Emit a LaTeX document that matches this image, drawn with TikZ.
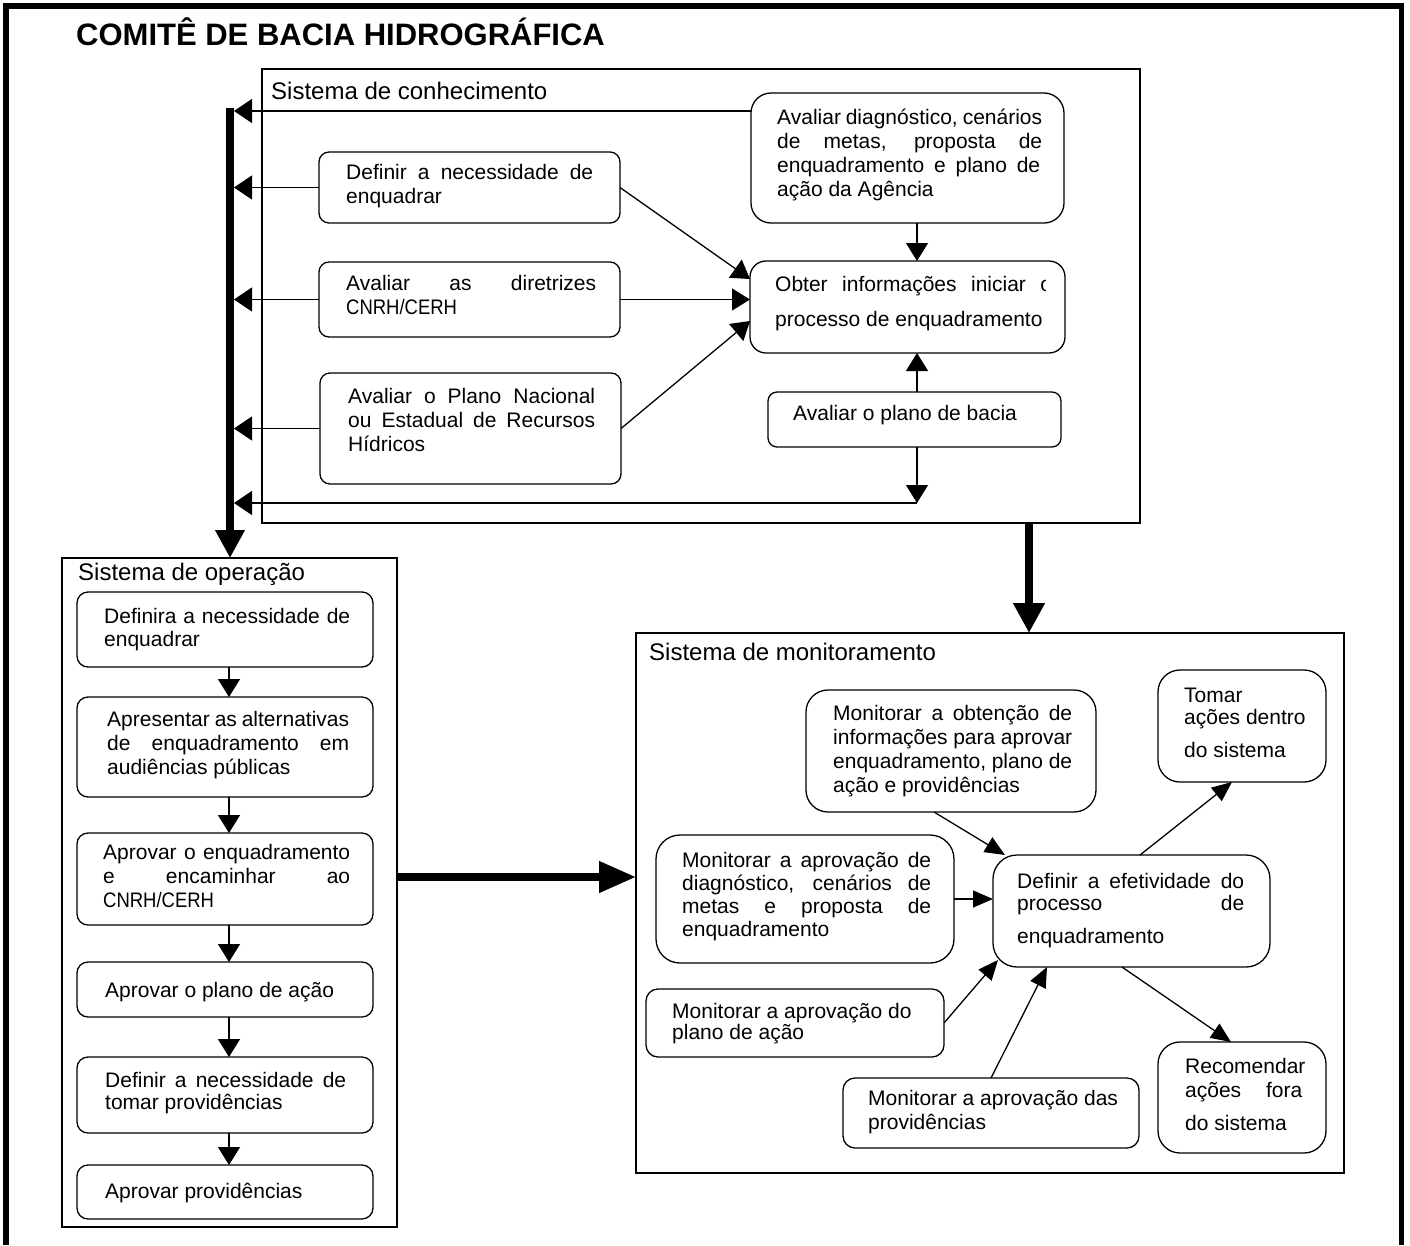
\documentclass[tikz,border=0pt]{standalone}
\usepackage{fontspec}
\setmainfont{Liberation Sans}
\usetikzlibrary{arrows.meta}
\newcommand{\justline}[2]{\makebox[#1pt][s]{#2}}
\newcommand{\cnrh}{\scalebox{0.88}[1]{CNRH/CERH}}
\begin{document}
\begin{tikzpicture}[x=1pt,y=-1pt,
  sysframe/.style={draw, line width=1.3pt, inner sep=0pt, outer sep=0pt, anchor=north west},
  rbox/.style={draw, line width=1.3pt, inner sep=0pt, outer sep=0pt, anchor=north west, rounded corners=#1},
  rbox/.default=10pt,
  txt/.style={anchor=north west, inner sep=0pt, align=left, font=\fontsize{21}{24}\selectfont},
  syslabel/.style={anchor=base west, inner sep=0pt, font=\fontsize{24}{28}\selectfont},
  arr/.style={line width=1.3pt, -{Triangle[length=18pt,width=22pt]}},
  busarr/.style={line width=1.3pt, -{Triangle[length=18pt,width=24pt]}},
  monarr/.style={line width=1.3pt, -{Triangle[length=20pt,width=17pt]}},
  bigarr/.style={line width=7.5pt, -{Triangle[length=30pt,width=30pt]}},
]
\useasboundingbox (0,0) rectangle (1410,1245);

% outer frame, open at the bottom
\draw[line width=5.5pt] (6,1245) -- (6,6) -- (1401.5,6) -- (1401.5,1245);
\node[anchor=base west, inner sep=0pt, font=\fontsize{31}{36}\selectfont\bfseries] (title) at (76,45) {COMITÊ DE BACIA HIDROGRÁFICA};

% ---------- Sistema de conhecimento ----------
\node[sysframe, minimum width=878pt, minimum height=454pt] (kn) at (262,69) {};
\node[syslabel] (knlab) at (271,99) {Sistema de conhecimento};

\node[rbox, minimum width=301pt, minimum height=71pt] (k1) at (319,152) {};
\node[rbox, minimum width=301pt, minimum height=75pt] (k2) at (319,262) {};
\node[rbox, minimum width=301pt, minimum height=111pt] (k3) at (320,373) {};
\node[rbox=20pt, minimum width=313pt, minimum height=130pt] (kd) at (751,93) {};
\node[rbox=16pt, minimum width=315pt, minimum height=92pt] (ko) at (750,261) {};
\node[rbox=9pt, minimum width=293pt, minimum height=55pt] (kp) at (768,392) {};

\node[txt] (k1t) at (346,162.2) {\strut\justline{247}{Definir a necessidade de}\\enquadrar};
\node[txt] (k2t) at (346,273.2) {\strut\justline{250}{Avaliar as diretrizes}\\\cnrh};
\node[txt] (k3t) at (348,386.2) {\strut\justline{247}{Avaliar o Plano Nacional}\\\justline{247}{ou Estadual de Recursos}\\Hídricos};
\node[txt] (kdt) at (777,107.2) {\strut\justline{265}{Avaliar diagnóstico, cenários}\\\justline{265}{de metas, proposta de}\\\justline{263}{enquadramento e plano de}\\ação da Agência};
\begin{scope}
  \clip (750,255) rectangle (1045.5,360);
  \node[txt] (kot) at (775,274.2) {\strut\justline{277}{Obter informações iniciar o}\\[11pt]processo de enquadramento};
\end{scope}
\node[txt] (kpt) at (793,403.2) {\strut Avaliar o plano de bacia};

% collecting bus on the left
\coordinate (busTop) at (230,108);
\coordinate (busR) at (234,0);
\coordinate (colK) at (917,0);
\coordinate (ret) at (917,503);

% ---------- Sistema de operação ----------
\node[sysframe, minimum width=335pt, minimum height=669pt] (op) at (62,558) {};
\node[syslabel] (oplab) at (78,580) {Sistema de operação};

\draw[bigarr, line width=8pt, -{Triangle[length=28pt,width=28pt]}] (busTop) -- (busTop |- op.north);

\draw[busarr] ([yshift=-18pt]kd.north west) -- ([yshift=-18pt]kd.north west -| busR);
\draw[busarr] (k1.west) -- (k1.west -| busR);
\draw[busarr] (k2.west) -- (k2.west -| busR);
\draw[busarr] (k3.west) -- (k3.west -| busR);
\draw[arr] (kp.south -| colK) -- (ret);
\draw[busarr] (ret) -- (ret -| busR);

\draw[arr] (kd.south -| colK) -- (ko.north -| colK);
\draw[arr] (kp.north -| colK) -- (ko.south -| colK);
\draw[arr] (k1.east) -- ([yshift=-18pt]ko.north west);
\draw[arr] (k2.east) -- (k2.east -| ko.west);
\draw[arr] (k3.east) -- ([yshift=32pt]ko.south west);

\node[rbox=11pt, minimum width=296pt, minimum height=75pt] (o1) at (77,592) {};
\node[rbox=11pt, minimum width=296pt, minimum height=100pt] (o2) at (77,697) {};
\node[rbox=11pt, minimum width=296pt, minimum height=92pt] (o3) at (77,833) {};
\node[rbox=11pt, minimum width=296pt, minimum height=55pt] (o4) at (77,962) {};
\node[rbox=11pt, minimum width=296pt, minimum height=76pt] (o5) at (77,1057) {};
\node[rbox=11pt, minimum width=296pt, minimum height=54pt] (o6) at (77,1165) {};

\node[txt] (o1t) at (104,606.2) {\strut\justline{246}{Definira a necessidade de}\\[-1pt]enquadrar};
\node[txt] (o2t) at (107,709.2) {\strut\justline{242}{Apresentar as alternativas}\\\justline{242}{de enquadramento em}\\audiências públicas};
\node[txt] (o3t) at (103,842.2) {\strut\justline{247}{Aprovar o enquadramento}\\\justline{247}{e encaminhar ao}\\\cnrh};
\node[txt] (o4t) at (105,980.2) {\strut Aprovar o plano de ação};
\node[txt] (o5t) at (105,1070.2) {\strut\justline{241}{Definir a necessidade de}\\[-2pt]tomar providências};
\node[txt] (o6t) at (105,1181.2) {\strut Aprovar providências};

\coordinate (colO) at (229,0);
\draw[arr] (o1.south -| colO) -- (o2.north -| colO);
\draw[arr] (o2.south -| colO) -- (o3.north -| colO);
\draw[arr] (o3.south -| colO) -- (o4.north -| colO);
\draw[arr] (o4.south -| colO) -- (o5.north -| colO);
\draw[arr] (o5.south -| colO) -- (o6.north -| colO);

% ---------- Sistema de monitoramento ----------
\node[sysframe, minimum width=708pt, minimum height=540pt] (mn) at (636,633) {};
\node[syslabel] (mnlab) at (649,660) {Sistema de monitoramento};

\coordinate (colT) at (1029,0);
\draw[bigarr] (kn.south -| colT) -- (mn.north -| colT);
\coordinate (rowOM) at (0,877);
\draw[bigarr, -{Triangle[length=37pt,width=30pt]}] (rowOM -| op.east) -- (rowOM -| mn.west);

\node[rbox=22pt, minimum width=290pt, minimum height=122pt] (m1) at (806,690) {};
\node[rbox=22pt, minimum width=168pt, minimum height=112pt] (tm) at (1158,670) {};
\node[rbox=24pt, minimum width=298pt, minimum height=128pt] (m3) at (656,835) {};
\node[rbox=24pt, minimum width=277pt, minimum height=112pt] (ef) at (993,855) {};
\node[rbox=12pt, minimum width=298pt, minimum height=68pt] (pa) at (646,989) {};
\node[rbox=12pt, minimum width=296pt, minimum height=70pt] (pv) at (843,1078) {};
\node[rbox=22pt, minimum width=168pt, minimum height=111pt] (rc) at (1158,1042) {};

\node[txt] (m1t) at (833,703.2) {\strut\justline{239}{Monitorar a obtenção de}\\\justline{239}{informações para aprovar}\\\justline{239}{enquadramento, plano de}\\ação e providências};
\node[txt] (tmt) at (1184,685.2) {\strut Tomar\\[-2pt]ações dentro\\[9pt]do sistema};
\node[txt] (m3t) at (682,850.2) {\strut\justline{249}{Monitorar a aprovação de}\\[-1pt]\justline{249}{diagnóstico, cenários de}\\[-1pt]\justline{249}{metas e proposta de}\\[-1pt]enquadramento};
\node[txt] (eft) at (1017,871.2) {\strut\justline{227}{Definir a efetividade do}\\[-2pt]\justline{227}{processo de}\\[9pt]enquadramento};
\node[txt] (pat) at (672,1001.2) {\strut Monitorar a aprovação do\\[-3pt]plano de ação};
\node[txt] (pvt) at (868,1088.2) {\strut Monitorar a aprovação das\\providências};
\node[txt] (rct) at (1185,1056.2) {\strut Recomendar\\\justline{117}{ações fora}\\[9pt]do sistema};

\draw[monarr] ([xshift=-17pt]m1.south) -- ([xshift=12pt]ef.north west);
\draw[monarr] (m3.east) -- (m3.east -| ef.west);
\draw[monarr] ([xshift=147pt]ef.north west) -- ([xshift=-10pt]tm.south);
\draw[monarr] ([xshift=129pt]ef.south west) -- ([xshift=-11pt]rc.north);
\draw[monarr] (pa.east) -- ([xshift=5pt,yshift=7pt]ef.south west);
\draw[monarr] (pv.north) -- ([xshift=54pt]ef.south west);
\end{tikzpicture}
\end{document}
